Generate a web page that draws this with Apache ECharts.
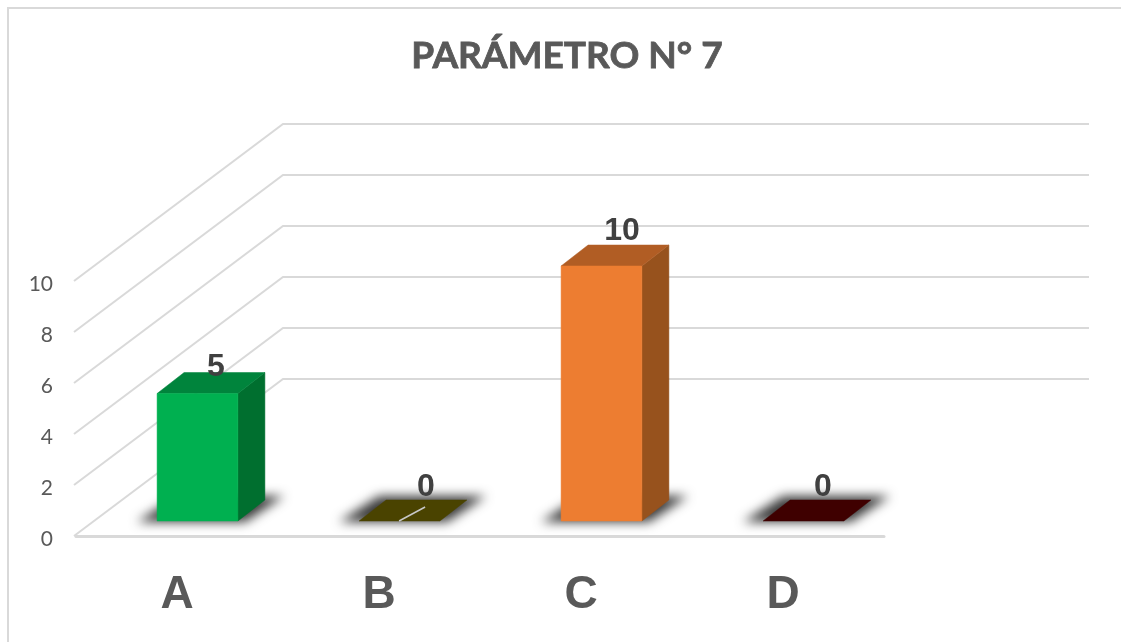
<!DOCTYPE html>
<html>
<head>
<meta charset="utf-8">
<title>Parámetro N° 7</title>
<script src="https://cdn.jsdelivr.net/npm/echarts@6/dist/echarts.min.js"></script>
<style>
  html, body { margin: 0; padding: 0; background: #fff; }
  #chart { width: 1121px; height: 642px; }
</style>
</head>
<body>
<div id="chart"></div>
<script>
// Values
const chartTitle = 'PARÁMETRO N° 7';
const categories = ['A', 'B', 'C', 'D'];
const values = [5, 0, 10, 0];
const yTicks = [0, 2, 4, 6, 8, 10];

// Face colours per bar
const frontColors = ['#00b050', '#4a4300', '#ed7d31', '#3f0000'];
const topColors = ['#00843c', '#4a4300', '#b15d24', '#3f0000'];
const sideColors = ['#006f2f', '#4a4300', '#97521d', '#3f0000'];

// Pseudo-3D projection, in pixels
const wallDx = 209, wallDy = 157, wallRightDx = 205;
const barShiftX = 20.5, barShiftY = 15, barRatio = 0.4;
const barDepthX = 27, barDepthY = 21;
// Small nudge of each value label off the back edge of its bar top
const labelLift = [5, 13, 14, 13];
const labelShift = [5, 13, 7, 6];
const gridColor = '#d9d9d9';
// The shadow caster sits off-canvas so that only its blur is painted
const shadowThrow = 3000;

function poly(points, fill) {
  return { type: 'polygon', shape: { points }, style: { fill, stroke: fill, lineWidth: 0.5 }, silent: true };
}

// One wall line per tick, with its diagonal running to the back wall
function renderWallLine(params, api) {
  const c = params.coordSys;
  const y = api.coord([0, api.value(1)])[1];
  const fx = c.x - 2;
  return {
    type: 'polyline',
    silent: true,
    shape: { points: [[fx, y], [fx + wallDx, y - wallDy], [c.x + c.width + wallRightDx, y - wallDy]] },
    style: { fill: 'none', stroke: gridColor, lineWidth: 2 }
  };
}

// A box standing on the floor: soft shadow, then top, side and front faces
function renderBar(params, api) {
  const i = api.value(0);
  const val = api.value(1);
  const base = api.coord([i, 0]);
  const tip = api.coord([i, val]);
  const band = api.size([1, 0])[0];
  const w = band * barRatio;
  const x = base[0] + barShiftX - w / 2;
  const y0 = base[1] - barShiftY;
  const y1 = tip[1] - barShiftY;
  const dx = barDepthX, dy = barDepthY;
  const children = [{
    type: 'polygon',
    silent: true,
    shape: { points: [
      [x - 20 - shadowThrow, y0 + 1], [x + w + 7 - shadowThrow, y0 + 1],
      [x + w + dx + 19 - shadowThrow, y0 - dy - 4], [x + dx - 7 - shadowThrow, y0 - dy - 4]
    ] },
    style: { fill: '#3a3a3a', shadowBlur: 11, shadowColor: '#3a3a3a', shadowOffsetX: shadowThrow }
  }];
  if (val > 0) {
    children.push(poly([[x + w, y1], [x + w + dx, y1 - dy], [x + w + dx, y0 - dy], [x + w, y0]], sideColors[i]));
  }
  children.push(poly([[x, y1], [x + dx, y1 - dy], [x + w + dx, y1 - dy], [x + w, y1]], topColors[i]));
  if (val > 0) {
    children.push(poly([[x, y1], [x + w, y1], [x + w, y0], [x, y0]], frontColors[i]));
  }
  // Leader line of the value label on the olive bar
  if (categories[i] === 'B') {
    children.push({
      type: 'line',
      silent: true,
      shape: { x1: x + 40, y1: y0, x2: x + 66, y2: y0 - 14 },
      style: { stroke: '#c8c8c8', lineWidth: 1.5 }
    });
  }
  children.push({
    type: 'text',
    silent: true,
    style: {
      x: x + w / 2 + dx / 2 + labelShift[i],
      y: y1 - dy - labelLift[i],
      text: String(val),
      fill: '#404040',
      font: 'bold 32px "Liberation Sans", Arial, sans-serif',
      align: 'center',
      verticalAlign: 'middle'
    }
  });
  return { type: 'group', children };
}

const chart = echarts.init(document.getElementById('chart'), null, { renderer: 'canvas' });
chart.setOption({
  animation: false,
  backgroundColor: '#ffffff',
  title: {
    text: chartTitle,
    left: 562,
    top: 33,
    textAlign: 'center',
    textStyle: {
      fontFamily: 'Lato',
      fontWeight: 'bold',
      fontSize: 37,
      color: '#595959',
      textBorderColor: '#595959',
      textBorderWidth: 0.8
    }
  },
  graphic: [{
    type: 'polyline',
    silent: true,
    shape: { points: [[8, 642], [8, 8], [1121, 8]] },
    style: { fill: 'none', stroke: gridColor, lineWidth: 2 }
  }],
  grid: { left: 76, right: 237, top: 281, bottom: 106 },
  xAxis: {
    type: 'category',
    data: categories,
    axisTick: { show: false },
    axisLine: { show: true, lineStyle: { color: gridColor, width: 3 } },
    axisLabel: {
      margin: 36,
      color: '#595959',
      fontFamily: '"Liberation Sans", Arial, sans-serif',
      fontWeight: 'bold',
      fontSize: 46
    }
  },
  yAxis: {
    type: 'value',
    min: 0,
    max: 10,
    interval: 2,
    axisLine: { show: false },
    axisTick: { show: false },
    splitLine: { show: false },
    axisLabel: {
      margin: 23,
      formatter: '{t|{value}}',
      rich: { t: { color: '#595959', fontFamily: 'Lato', fontSize: 21, padding: [7, 0, 0, 0] } }
    }
  },
  series: [
    {
      type: 'custom',
      z: 1,
      renderItem: renderWallLine,
      encode: { x: 0, y: 1 },
      data: yTicks.map(v => [0, v])
    },
    {
      type: 'custom',
      z: 3,
      renderItem: renderBar,
      encode: { x: 0, y: 1 },
      data: values.map((v, i) => [i, v])
    }
  ]
});
</script>
</body>
</html>
